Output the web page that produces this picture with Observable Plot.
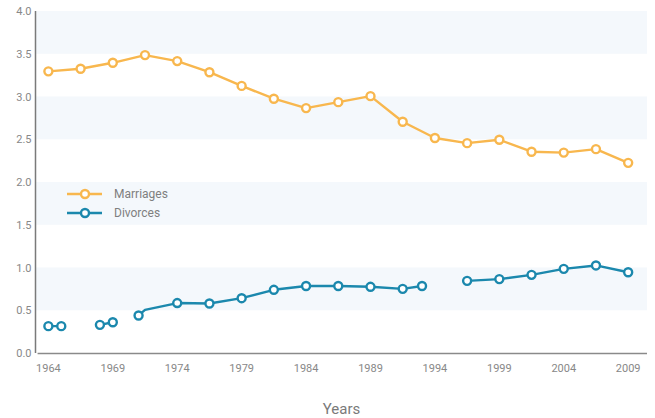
<!DOCTYPE html>
<html>
<head>
<meta charset="utf-8">
<script src="https://cdn.jsdelivr.net/npm/d3@7"></script>
<script src="https://cdn.jsdelivr.net/npm/@observablehq/plot@0.6"></script>
<style>
  html, body { margin: 0; padding: 0; background: #fff; }
  #wrap { position: relative; width: 655px; height: 418px; font-family: Roboto, "Open Sans", sans-serif; }
  .legend { position: absolute; left: 66px; top: 184px; font-size: 12px; color: #7f7f7f; }
  .legend .row { display: flex; align-items: center; height: 19px; }
  .legend svg { margin-right: 11px; }
</style>
</head>
<body>
<div id="wrap"></div>
<script>
// ---- data ----
const years = [1964, 1966.5, 1969, 1971.5, 1974, 1976.5, 1979, 1981.5, 1984, 1986.5,
               1989, 1991.5, 1994, 1996.5, 1999, 2001.5, 2004, 2006.5, 2009];
const marriages = [3.30, 3.33, 3.40, 3.49, 3.42, 3.29, 3.13, 2.98, 2.87, 2.94,
                   3.01, 2.71, 2.52, 2.46, 2.50, 2.36, 2.35, 2.39, 2.23];

// NaN values mark gaps in the divorce series; divMarked = whether a circle is drawn
const divYears  = [1964, 1965, 1966.5, 1968, 1969, 1970, 1971, 1971.5, 1974, 1976.5, 1979, 1981.5,
                   1984, 1986.5, 1989, 1991.5, 1993, 1995, 1996.5, 1999, 2001.5, 2004, 2006.5, 2009];
const divorces  = [0.32, 0.32, NaN, 0.335, 0.365, NaN, 0.445, 0.51, 0.59, 0.585, 0.647, 0.745,
                   0.79, 0.79, 0.78, 0.756, 0.79, NaN, 0.85, 0.87, 0.92, 0.99, 1.03, 0.95];
const divMarked = [1, 1, 0, 1, 1, 0, 1, 0, 1, 1, 1, 1, 1, 1, 1, 1, 1, 0, 1, 1, 1, 1, 1, 1];

const xTicks = [1964, 1969, 1974, 1979, 1984, 1989, 1994, 1999, 2004, 2009];
const yTicks = [0, 0.5, 1, 1.5, 2, 2.5, 3, 3.5, 4];
const bandLow  = [0.5, 1.5, 2.5, 3.5];
const bandHigh = [1.0, 2.0, 3.0, 4.0];
const xDomain = [1963, 2010.5];
const yDomain = [0, 4];

const seriesNames = ["Marriages", "Divorces"];
const seriesColors = ["#f8b74e", "#1b88ad"];

// ---- tables ----
const mData = years.map((y, i) => ({year: y, value: marriages[i]}));
const dData = divYears.map((y, i) => ({year: y, value: divorces[i], marked: divMarked[i]}));
const bands = bandLow.map((lo, i) => ({lo, hi: bandHigh[i]}));

const textColor = "#888";

const chart = Plot.plot({
  width: 655,
  height: 418,
  marginLeft: 35,
  marginRight: 8,
  marginTop: 11,
  marginBottom: 65,
  style: {fontFamily: "Roboto, 'Open Sans', sans-serif", fontSize: "11px", color: textColor, background: "#fff"},
  x: {domain: xDomain, ticks: xTicks, tickFormat: "d", tickSize: 0, tickPadding: 11,
      label: "Years", labelAnchor: "center", labelOffset: 60, labelArrow: "none"},
  y: {domain: yDomain, ticks: yTicks, tickFormat: ".1f", tickSize: 0, tickPadding: 4, label: null},
  marks: [
    Plot.rect(bands, {x1: () => xDomain[0], x2: () => xDomain[1], y1: "lo", y2: "hi", fill: "#f4f8fc"}),
    Plot.ruleX([xDomain[0]], {stroke: "#7a7a7a", strokeWidth: 1.5}),
    Plot.ruleY([yDomain[0]], {stroke: "#8a8a8a", strokeWidth: 1.5, x1: () => xDomain[0] + 0.2, x2: () => xDomain[1]}),
    Plot.line(mData, {x: "year", y: "value", stroke: seriesColors[0], strokeWidth: 2.4}),
    Plot.dot(mData, {x: "year", y: "value", stroke: seriesColors[0], fill: "#fff", r: 4, strokeWidth: 2.4}),
    Plot.line(dData, {x: "year", y: "value", stroke: seriesColors[1], strokeWidth: 2.4}),
    Plot.dot(dData.filter(d => d.marked && !isNaN(d.value)), {x: "year", y: "value", stroke: seriesColors[1], fill: "#fff", r: 4, strokeWidth: 2.4})
  ]
});

const wrap = document.getElementById("wrap");
wrap.appendChild(chart);
// style the axis label (and strip any arrow)
d3.select(chart).selectAll("[aria-label='x-axis label'] text, [aria-label='x-axis label']")
  .style("font-size", "15px").attr("fill", "#7a7a7a");
d3.select(chart).selectAll("[aria-label='x-axis label'] text")
  .text(function() { return this.textContent.replace(/\s*[→←]\s*/g, ""); });

// ---- legend ----
const legend = document.createElement("div");
legend.className = "legend";
seriesNames.forEach((name, i) => {
  const row = document.createElement("div");
  row.className = "row";
  row.innerHTML = `<svg width="37" height="12"><line x1="1" x2="36" y1="6" y2="6" stroke="${seriesColors[i]}" stroke-width="2.4"/><circle cx="19" cy="6" r="4" fill="#fff" stroke="${seriesColors[i]}" stroke-width="2.4"/></svg><span>${name}</span>`;
  legend.appendChild(row);
});
wrap.appendChild(legend);
</script>
</body>
</html>
